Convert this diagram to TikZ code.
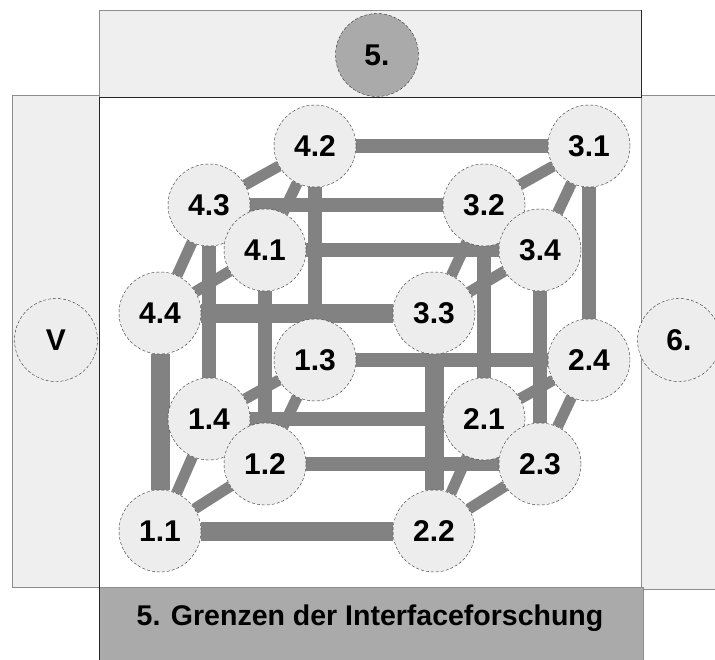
\documentclass[tikz,border=0pt]{standalone}
\usepackage{fontspec}
\setmainfont{Liberation Sans}
\usetikzlibrary{backgrounds}

\definecolor{edgegray}{RGB}{130,130,130}
\definecolor{nodegray}{RGB}{237,237,237}
\definecolor{panelgray}{RGB}{239,239,239}
\definecolor{darkpanel}{RGB}{170,170,170}

\begin{document}
\begin{tikzpicture}[x=1pt, y=-1pt, font=\bfseries\fontsize{30}{34}\selectfont,
	main/.style = {draw=black!80, densely dashed, thin, circle, fill=nodegray, minimum size=82pt, inner sep=0pt},
	side/.style = {main, minimum size=83pt},
	edge/.style = {draw=edgegray, line width=14pt},
	front/.style = {draw=edgegray, line width=19pt},
	diag/.style = {draw=edgegray, line width=11pt},
	panel/.style = {draw=black!45, fill=panelgray}]
	\useasboundingbox (0,0) rectangle (715,659);
	\begin{pgfonlayer}{background}
		\fill[white] (0,0) rectangle (715,659);
		\draw[panel] (99,10) rectangle (641,97);
		\draw[panel] (12,95) rectangle (99,587);
		\draw[panel] (641,95) rectangle (730,589);
		\draw[draw=black!45, fill=white] (99,97) rectangle (641,587);
		\draw[draw=black!45, fill=darkpanel] (99,587) rectangle (643,670);
		\draw[black!85, thick] (99,670) -- (99,97) -- (641,97) -- (641,10);
	\end{pgfonlayer}
	\node[side, fill=darkpanel] (t5) at (377,55) {5.};
	\node[side] (lv) at (56,340) {V};
	\node[side] (r6) at (679,340) {6.};
	\node (title) at (370,618) {\fontsize{28.5}{32}\selectfont 5. Grenzen der Interfaceforschung};
	\node[main] (11) at (160,531) {1.1};
	\node[main] (14) at (209,419) {1.4};
	\node[main] (12) at (265,464) {1.2};
	\node[main] (13) at (315,360) {1.3};
	\node[main] (22) at (434,531) {2.2};
	\node[main] (21) at (484,419) {2.1};
	\node[main] (23) at (540,464) {2.3};
	\node[main] (24) at (589,360) {2.4};
	\node[main] (33) at (434,313) {3.3};
	\node[main] (32) at (484,205) {3.2};
	\node[main] (34) at (540,250) {3.4};
	\node[main] (31) at (589,146) {3.1};
	\node[main] (44) at (160,313) {4.4};
	\node[main] (43) at (209,205) {4.3};
	\node[main] (41) at (265,250) {4.1};
	\node[main] (42) at (315,146) {4.2};
	\begin{pgfonlayer}{background}
		\draw[diag] (11) -- (12);
		\draw[diag] (12) -- (13);
		\draw[diag] (13) -- (14);
		\draw[diag] (14) -- (11);
		\draw[diag] (22) -- (23);
		\draw[diag] (23) -- (24);
		\draw[diag] (24) -- (21);
		\draw[diag] (21) -- (22);
		\draw[diag] (33) -- (34);
		\draw[diag] (34) -- (31);
		\draw[diag] (31) -- (32);
		\draw[diag] (32) -- (33);
		\draw[diag] (44) -- (41);
		\draw[diag] (41) -- (42);
		\draw[diag] (42) -- (43);
		\draw[diag] (43) -- (44);
		\draw[front] (11) -- (22);
		\draw[front] (22) -- (33);
		\draw[front] (33) -- (44);
		\draw[front] (44) -- (11);
		\draw[edge] (12) -- (23);
		\draw[edge] (23) -- (34);
		\draw[edge] (34) -- (41);
		\draw[edge] (41) -- (12);
		\draw[edge] (14) -- (21);
		\draw[edge] (21) -- (32);
		\draw[edge] (32) -- (43);
		\draw[edge] (43) -- (14);
		\draw[edge] (13) -- (24);
		\draw[edge] (24) -- (31);
		\draw[edge] (31) -- (42);
		\draw[edge] (42) -- (13);
	\end{pgfonlayer}
\end{tikzpicture}
\end{document}
